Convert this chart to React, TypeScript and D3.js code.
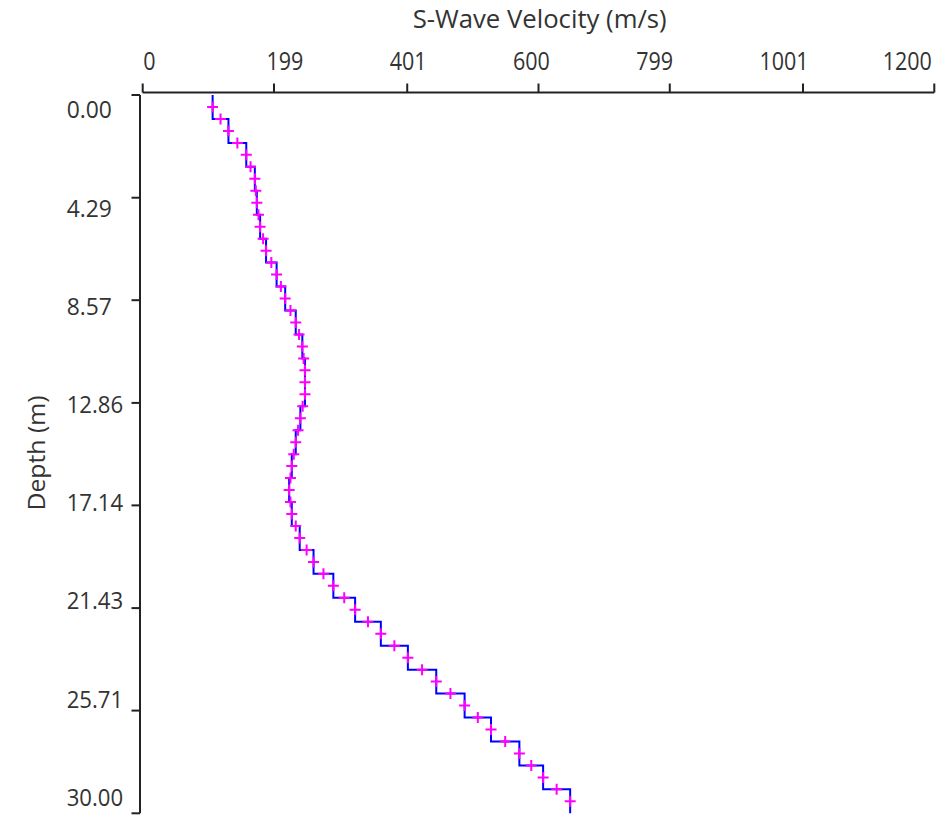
import React from "react";
import * as d3 from "d3";

// Layer boundaries (m) and S-wave velocity per layer (m/s)
const layerTops = [0,1,2,3,4,5,6,7,8,9,10,11,12,13,14,15,16,17,18,19,20,21,22,23,24,25,26,27,28,29];
const layerBottoms = [1,2,3,4,5,6,7,8,9,10,11,12,13,14,15,16,17,18,19,20,21,22,23,24,25,26,27,28,29,30];
const velocities = [106,130,157,170,173,178,187,203,216,232,242,246,246,239,232,226,222,226,238,259,289,322,361,402,445,488,528,571,607,648];

const xTickValues = [0,199,401,600,799,1001,1200];
const xTickLabels = ["0","199","401","600","799","1001","1200"];
const yTickValues = [0,4.29,8.57,12.86,17.14,21.43,25.71,30];
const yTickLabels = ["0.00","4.29","8.57","12.86","17.14","21.43","25.71","30.00"];

const W = 945, H = 819;
const FONT = "'Open Sans', 'DejaVu Sans', sans-serif";

export default function App() {
  const x = d3.scaleLinear().domain([0, 1200]).range([142.7, 934.3]);
  const y = d3.scaleLinear().domain([0, 30]).range([95, 813.3]);

  const stepPts: [number, number][] = [];
  velocities.forEach((v, i) => {
    stepPts.push([v, layerTops[i]]);
    stepPts.push([v, layerBottoms[i]]);
  });
  const line = d3.line<[number, number]>().x(d => x(d[0])).y(d => y(d[1]));

  const markers: [number, number][] = [];
  velocities.forEach((v, i) => {
    markers.push([v, (layerTops[i] + layerBottoms[i]) / 2]);
    if (i < velocities.length - 1) markers.push([(v + velocities[i + 1]) / 2, layerBottoms[i]]);
  });

  const axisY = 92.5;
  const axisX = 140;
  const xLabelStart = 143.3, xLabelStep = 123.23;
  const yLabelStart = 118.3, yLabelStep = 98.2;
  const TXT = "#333";

  return (
    <svg width={W} height={H} style={{ position: "absolute", left: 0, top: 0, background: "#fff" }}>
      {/* title */}
      <text x={539.7} y={28.3} textAnchor="middle" fontFamily={FONT} fontSize={25} fill={TXT}
        textLength={254} lengthAdjust="spacingAndGlyphs">S-Wave Velocity (m/s)</text>
      {/* x axis */}
      <line x1={x(0)} x2={x(1200)} y1={axisY} y2={axisY} stroke="#222" strokeWidth={2} />
      {xTickValues.map((t, i) => (
        <g key={"xt" + i}>
          <line x1={x(t)} x2={x(t)} y1={axisY} y2={axisY - 9} stroke="#222" strokeWidth={2} />
          <text x={xLabelStart + i * xLabelStep} y={70.3} fontFamily={FONT} fontSize={25} fill={TXT}
            textLength={12.3 * xTickLabels[i].length} lengthAdjust="spacingAndGlyphs">{xTickLabels[i]}</text>
        </g>
      ))}
      {/* y axis */}
      <line x1={axisX} x2={axisX} y1={y(0)} y2={y(30)} stroke="#222" strokeWidth={2} />
      {yTickValues.map((t, i) => (
        <g key={"yt" + i}>
          <line x1={axisX} x2={axisX - 8.5} y1={y(t)} y2={y(t)} stroke="#222" strokeWidth={2} />
          <text x={66.7} y={yLabelStart + i * yLabelStep} fontFamily={FONT} fontSize={23} fill={TXT}
            textLength={11.3 * yTickLabels[i].length} lengthAdjust="spacingAndGlyphs">{yTickLabels[i]}</text>
        </g>
      ))}
      <text transform="translate(45,453) rotate(-90)" textAnchor="middle" fontFamily={FONT} fontSize={24} fill={TXT}
        textLength={115} lengthAdjust="spacingAndGlyphs">Depth (m)</text>
      {/* profile */}
      <path d={line(stepPts) || ""} fill="none" stroke="#0000ff" strokeWidth={2} />
      {markers.map((m, i) => {
        const cx = x(m[0]), cy = y(m[1]);
        return (
          <path key={"m" + i} d={`M${cx - 5.5},${cy}H${cx + 5.5}M${cx},${cy - 5.5}V${cy + 5.5}`}
            stroke="#ff00ff" strokeWidth={2} fill="none" />
        );
      })}
    </svg>
  );
}
